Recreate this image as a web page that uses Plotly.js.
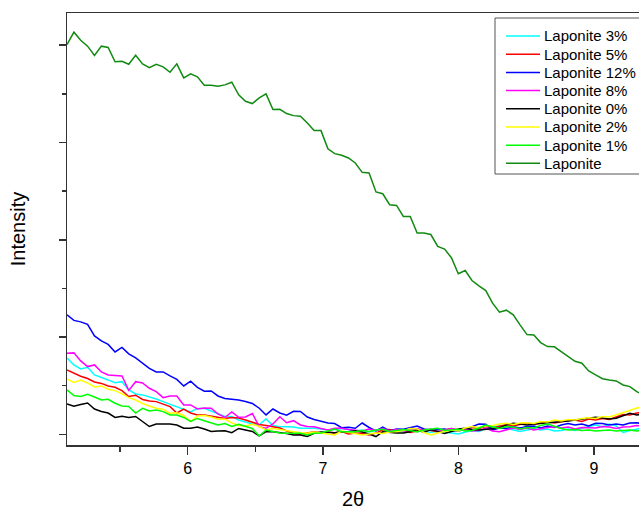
<!DOCTYPE html>
<html>
<head>
<meta charset="utf-8">
<script src="https://cdn.plot.ly/plotly-3.0.1.min.js"></script>
<style>html,body{margin:0;padding:0;background:#fff;}#chart{width:639px;height:512px;}</style>
</head>
<body>
<div id="chart"></div>
<script>
const twoTheta = [5.109,5.160,5.210,5.261,5.312,5.363,5.413,5.464,5.515,5.565,5.616,5.667,5.717,5.768,5.819,5.870,5.920,5.971,6.022,6.072,6.123,6.174,6.224,6.275,6.326,6.377,6.427,6.478,6.529,6.579,6.630,6.681,6.731,6.782,6.833,6.884,6.934,6.985,7.036,7.086,7.137,7.188,7.238,7.289,7.340,7.391,7.441,7.492,7.543,7.593,7.644,7.695,7.745,7.796,7.847,7.898,7.948,7.999,8.050,8.100,8.151,8.202,8.252,8.303,8.354,8.405,8.455,8.506,8.557,8.607,8.658,8.709,8.759,8.810,8.861,8.912,8.962,9.013,9.064,9.114,9.165,9.216,9.266,9.317,9.368];

const lap3 = [785,713,672,688,610,587,559,531,541,456,415,405,387,363,336,309,286,260,230,266,266,240,209,183,183,147,127,106,101,157,91,78,78,75,62,65,62,55,44,49,60,49,34,44,24,39,49,29,44,24,39,55,34,19,34,24,8,3,24,39,29,60,75,85,60,44,29,44,60,44,55,34,39,55,39,65,80,96,75,106,85,19,39,55,65];
const lap5 = [662,626,597,574,538,523,497,484,449,389,402,358,343,336,309,284,219,260,219,199,199,188,178,163,173,168,147,121,101,91,80,65,34,8,0,13,27,13,24,13,29,3,13,8,-7,13,44,49,34,44,19,34,49,39,24,44,60,44,55,70,60,80,65,85,101,85,101,116,101,116,130,116,132,142,147,132,157,147,163,152,178,204,199,219,230];
const lap12 = [1228,1171,1156,1130,1012,960,924,847,893,827,785,734,677,641,641,600,564,497,546,482,443,446,394,368,363,353,338,317,268,199,260,219,196,237,235,178,152,137,116,111,68,72,62,116,70,34,75,34,55,51,65,85,55,44,49,55,34,34,51,75,106,103,44,65,60,78,65,80,85,65,85,70,96,111,96,106,85,113,111,96,106,96,116,119,106];
const lap8 = [834,837,754,696,713,641,610,605,600,451,541,528,473,438,377,394,394,302,302,260,271,268,209,173,230,175,178,214,78,62,106,181,119,140,96,80,78,60,44,62,62,49,44,34,55,39,60,34,49,34,44,60,39,55,29,44,60,44,55,34,39,65,34,27,44,65,49,65,44,60,70,78,65,75,55,70,65,65,80,75,60,75,78,91,85];
const lap0 = [312,288,307,322,260,235,219,173,185,173,183,127,80,106,106,106,96,62,62,75,55,29,34,37,16,60,44,29,-17,27,27,21,8,-7,-7,-23,10,24,21,16,27,27,37,24,3,-23,27,19,13,13,27,49,19,49,29,8,29,55,62,49,44,51,60,65,96,113,106,96,106,111,119,127,132,137,147,157,163,175,168,157,165,194,216,199,209];
const lap2 = [569,533,557,528,487,497,463,449,415,377,353,317,291,268,257,216,222,194,132,188,194,178,154,157,116,91,85,103,80,44,60,49,37,24,16,10,24,13,3,-7,34,19,8,-7,3,13,8,24,29,39,60,55,19,-7,13,29,44,34,65,80,70,85,91,106,113,101,116,119,111,132,127,147,137,152,147,163,171,163,183,178,199,219,245,271,281];
const lap1 = [456,399,389,412,384,353,360,319,291,286,219,266,240,250,233,199,199,173,132,163,140,116,96,111,80,103,80,60,-17,44,29,13,10,13,10,-7,10,13,34,55,27,27,27,39,29,44,51,29,39,49,39,24,44,55,62,39,44,51,34,39,65,96,75,60,80,75,55,70,65,91,106,80,60,44,49,39,44,34,39,44,34,39,44,34,39];
const lapPure = [4007,4134,4051,3990,3894,3990,3976,3829,3835,3804,3897,3808,3770,3804,3778,3722,3808,3664,3705,3675,3588,3588,3578,3592,3619,3489,3423,3400,3458,3500,3338,3341,3297,3276,3269,3201,3122,3122,2934,2885,2868,2841,2789,2693,2686,2491,2473,2360,2353,2240,2240,2069,2069,2054,1931,1904,1815,1650,1684,1581,1526,1478,1348,1256,1276,1228,1125,1025,1022,943,902,899,850,799,751,731,652,610,572,559,549,507,490,438,405];

const seriesNames = ['Laponite 3%','Laponite 5%','Laponite 12%','Laponite 8%','Laponite 0%','Laponite 2%','Laponite 1%','Laponite'];
const seriesData = [lap3, lap5, lap12, lap8, lap0, lap2, lap1, lapPure];
const seriesColors = ['#00ffff','#ff0000','#0000ff','#ff00ff','#000000','#ffff00','#00ff00','#118a11'];

const xTicks = [6,7,8,9];

const FONT = 'Arial, "Liberation Sans", sans-serif';
const traces = seriesNames.map((n,i)=>({
  x: twoTheta, y: seriesData[i], name: n, type:'scatter', mode:'lines',
  line:{color: seriesColors[i], width:1.5}, showlegend:false
}));

// plot area in pixels (for the hand-built legend box)
const PL = 67, PR = 639, PT = 13, PB = 445;
const px2x = p => (p - PL) / (PR - PL);
const px2y = p => 1 - (p - PT) / (PB - PT);

const shapes = [{
  type:'rect', xref:'paper', yref:'paper', layer:'above',
  x0:px2x(495), x1:px2x(660), y0:px2y(18), y1:px2y(174),
  line:{color:'#555', width:1}, fillcolor:'#fff'
}];
const annotations = [];
seriesNames.forEach((n,i)=>{
  const yc = 36 + 18.19*i;
  shapes.push({type:'line', xref:'paper', yref:'paper', layer:'above',
    x0:px2x(506), x1:px2x(540), y0:px2y(yc), y1:px2y(yc),
    line:{color:seriesColors[i], width:1.5}});
  annotations.push({xref:'paper', yref:'paper', x:px2x(542), y:px2y(yc),
    xanchor:'left', yanchor:'middle', text:n, showarrow:false,
    font:{family:FONT, size:15, color:'#000'}});
});

const axisFont = {family:FONT, size:16, color:'#000'};
const layout = {
  width:639, height:512,
  margin:{l:67, r:0, t:13, b:67, pad:0},
  paper_bgcolor:'#fff', plot_bgcolor:'#fff',
  font: axisFont,
  showlegend:false,
  shapes: shapes,
  annotations: annotations,
  xaxis:{
    range:[5.109, 9.3335], showgrid:false, zeroline:false,
    showline:true, linecolor:'#333', linewidth:1.5, mirror:true,
    tickmode:'array', tickvals:xTicks, ticktext:xTicks.map(String),
    ticks:'outside', ticklen:8, tickwidth:1.5, tickcolor:'#333',
    minor:{dtick:0.5, tick0:0, ticks:'outside', ticklen:5, tickwidth:1.5, tickcolor:'#333'},
    tickfont:axisFont,
    title:{text:'2θ', font:{family:FONT, size:20, color:'#000'}, standoff:16}
  },
  yaxis:{
    range:[-110, 4331], showgrid:false, zeroline:false,
    showline:true, linecolor:'#333', linewidth:1.5,
    tick0:0, dtick:1000, showticklabels:false,
    ticks:'outside', ticklen:7, tickwidth:1.5, tickcolor:'#333',
    minor:{dtick:500, tick0:0, ticks:'outside', ticklen:4, tickwidth:1.5, tickcolor:'#333'},
    title:{text:'Intensity', font:{family:FONT, size:20, color:'#000'}, standoff:27}
  }
};
Plotly.newPlot('chart', traces, layout, {displayModeBar:false, staticPlot:true});
</script>
</body>
</html>
